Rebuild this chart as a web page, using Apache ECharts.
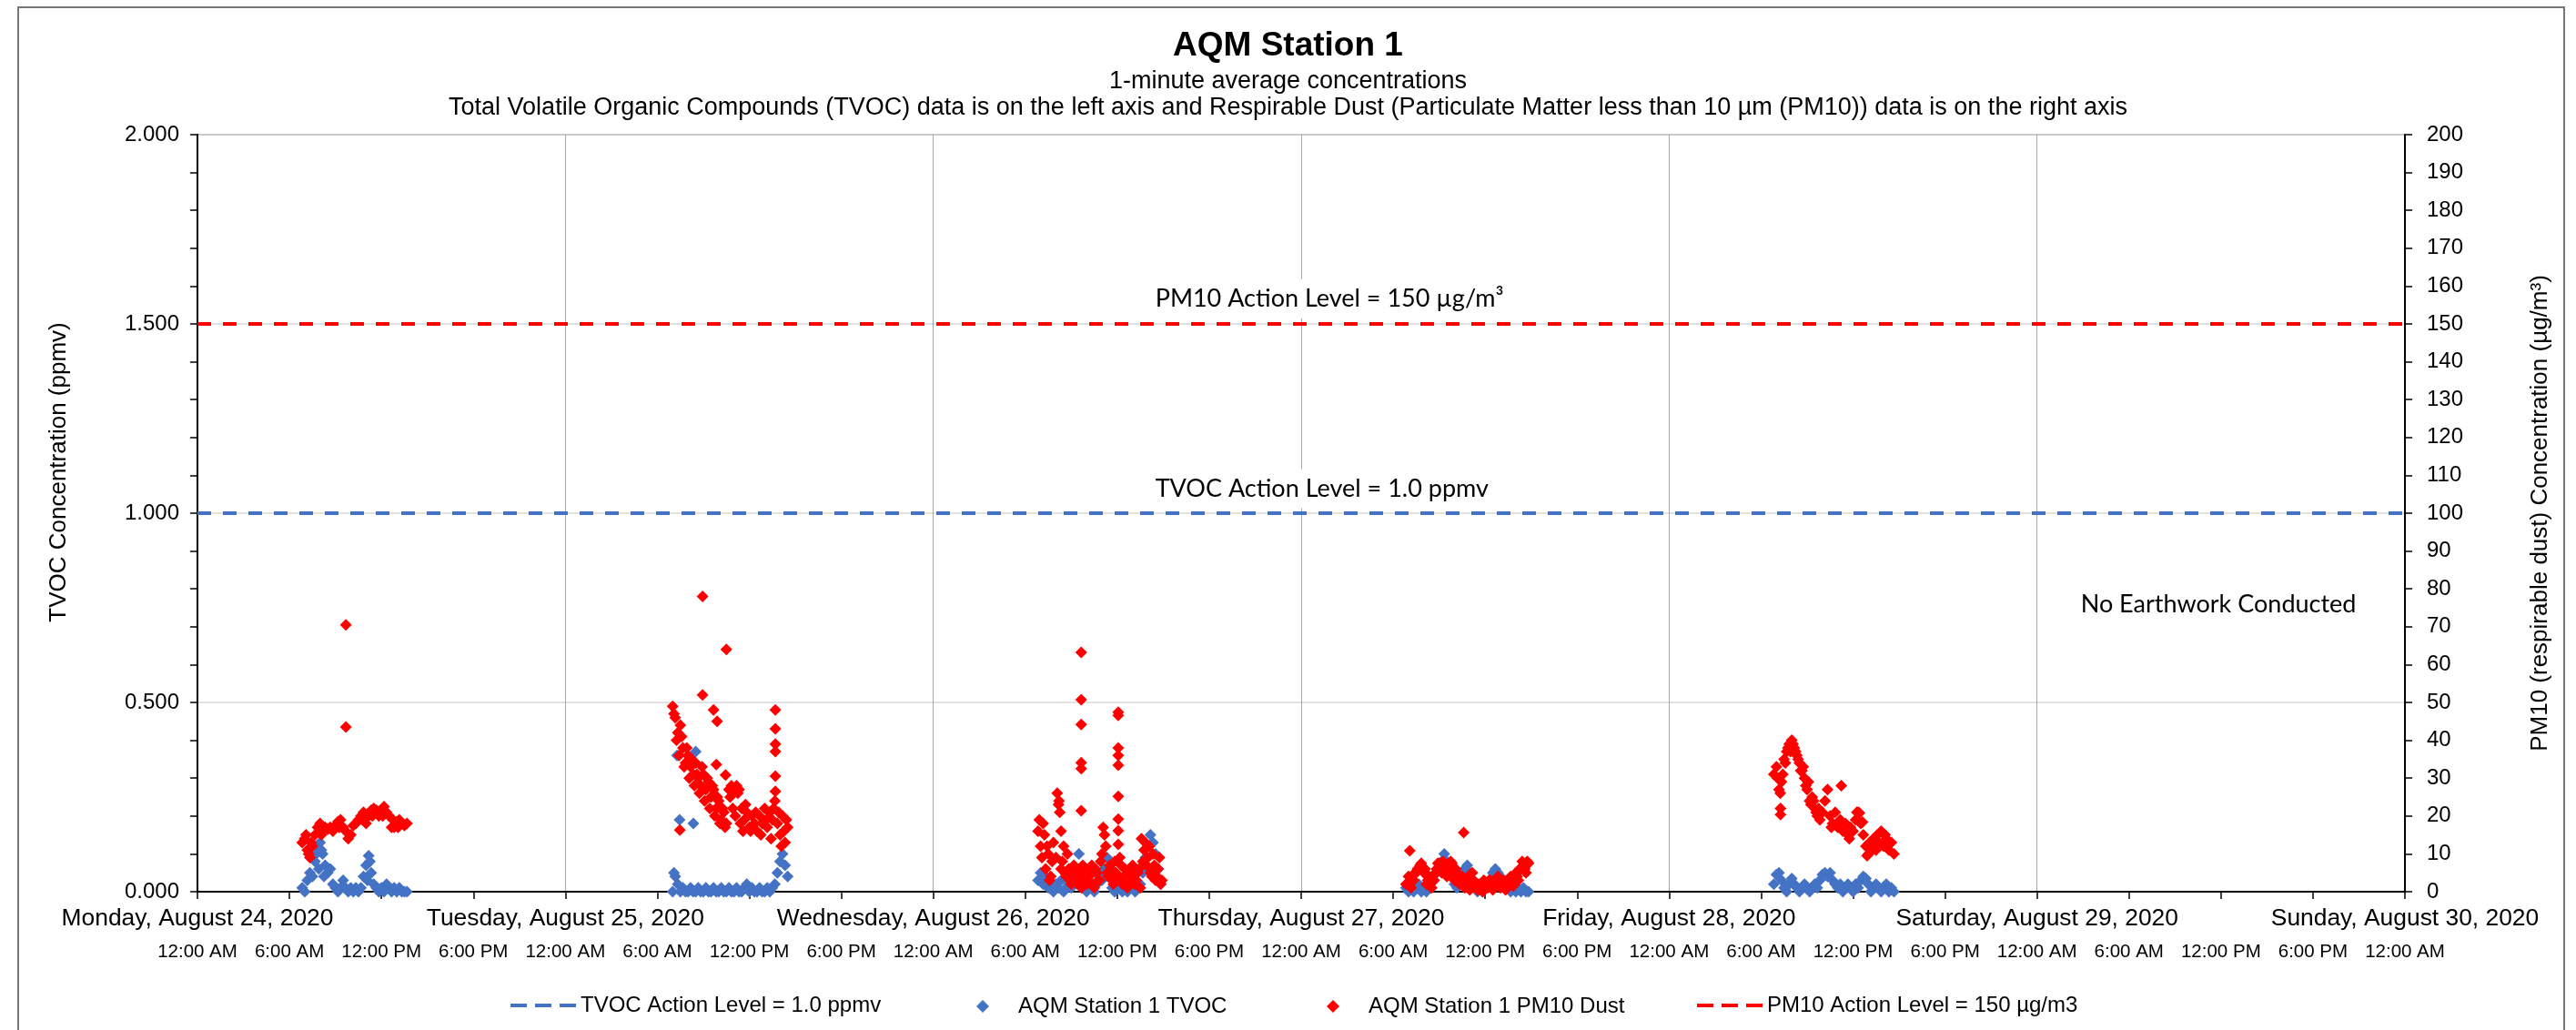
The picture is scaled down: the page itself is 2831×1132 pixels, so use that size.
<!DOCTYPE html>
<html>
<head>
<meta charset="utf-8">
<script src="https://cdn.jsdelivr.net/npm/echarts@6/dist/echarts.min.js"></script>
<style>html,body{margin:0;padding:0;background:#fff}#c{width:2831px;height:1132px}</style>
</head>
<body>
<div id="c"></div>
<script>
// ---------- axis / label data ----------
const dayLabels = ['Monday, August 24, 2020', 'Tuesday, August 25, 2020', 'Wednesday, August 26, 2020',
  'Thursday, August 27, 2020', 'Friday, August 28, 2020', 'Saturday, August 29, 2020', 'Sunday, August 30, 2020'];
const hourLabels = ['12:00 AM', '6:00 AM', '12:00 PM', '6:00 PM'];
const axisStart = Date.UTC(2020, 7, 24);
const axisEnd = Date.UTC(2020, 7, 30);
const tvocActionLevel = 1.0;
const pm10ActionLevel = 150;
const sampleMinutes = 10;

// ---------- Monday Aug 24 (06:50 - 13:40, every 10 min) ----------
const aug24Start = '2020-08-24T06:50';
const tvocAug24 = [0.01,0.00,0.03,0.05,0.04,0.08,0.12,0.13,0.10,0.07,0.05,0.06,0.02,0.01,0.00,0.01,0.03,0.01,0.00,0.01,0.00,0.01,0.00,0.01,0.04,0.07,0.095,0.05,0.02,0.01,0.00,0.01,0.00,0.02,0.01,0.00,0.01,0.00,0.01,0.00,0.00,0.00];
const pm10Aug24 = [13,14,11,9,12,15,17,18,16,17,16.5,17,16,17.5,18.5,19,17,16,14,15,17.5,18,19,20,21,18,20,21.5,22,21.5,20,21,22.5,21,20,17,17,18.5,19,18,17.5,18];
const tvocAug24Extra = [['07:45',0.10],['07:55',0.06],['08:05',0.11],['08:15',0.04],['11:05',0.03],['11:15',0.08]];
const pm10Aug24Extra = [['09:41',70.5],['09:41',43.5],['07:15',10],['07:25',13],['07:05',15],['08:05',15],['09:15',17],['10:45',19],['11:25',20],['12:05',20],['12:45',19],['13:05',17]];

// ---------- Tuesday Aug 25 (07:00 - 14:30) ----------
const aug25Start = '2020-08-25T07:00';
const tvocAug25 = [0.00,0.04,0.02,0.00,0.01,0.00,0.00,0.01,0.00,0.00, 0.01,0.00,0.00,0.01,0.00,0.00,0.01,0.00,0.00,0.01, 0.00,0.00,0.01,0.00,0.00,0.01,0.00,0.00,0.01,0.02, 0.00,0.01,0.00,0.00,0.01,0.00,0.00,0.01,0.00,0.01, 0.02,0.05,0.08,0.10,0.07,0.04];
const pm10Aug25 = [49,46,42,44,38,34,36,33,31,34, 30,28,31,27,29,25,27,22,24,19, 21,18,27,28,27,28,27,22,19,21, 17,20,18,16,20,18,22,17,21,19, 24,18,15,20,13,17];
const tvocAug25Extra = [['07:27',0.19],['08:21',0.18],['07:17',0.36],['08:14',0.35],['08:30',0.37],['07:05',0.05]];
const pm10Aug25Extra = [['08:57',78],['08:57',52],['10:30',64],['09:40',48],['09:54',45],['09:51',33.6],['10:27',30.8],['07:28',16.3],
  ['13:42',48],['13:42',43],['13:42',39],['13:42',37],['13:42',30.5],['13:42',26.5],
  ['07:05',47],['07:15',40],['07:25',36],['07:35',41],['07:45',33],['07:55',38],['08:05',30],['08:15',35],['08:25',28],['08:35',31],
  ['08:45',26],['08:55',33],['09:05',24],['09:15',30],['09:25',22],['09:35',28],['09:45',20],['09:55',25],['10:05',18],['10:15',22],
  ['10:25',17],['10:45',25],['10:55',22],['11:05',20],['11:15',26],['11:25',18],['11:35',16],['11:45',23],['12:05',16],['12:25',21],
  ['12:45',15],['13:05',19],['13:25',14],['13:35',22],['13:55',21],['14:05',12],['14:15',16],['14:25',19]];

// ---------- Wednesday Aug 26 (06:50 - 14:50) ----------
const aug26Start = '2020-08-26T06:50';
const tvocAug26 = [0.03,0.05,0.02,0.04,0.01,0.02,0.00,0.02,0.01,0.03, 0.00,0.01,0.02,0.01,0.03,0.05,0.10,0.04,0.01,0.00, 0.02,0.01,0.00,0.02,0.04,0.03,0.06,0.09,0.04,0.01, 0.00,0.02,0.01,0.00,0.01,0.00,0.02,0.01,0.00,0.01, 0.02,0.05,0.09,0.12,0.15,0.13,0.10,0.06,0.02];
const pm10Aug26 = [16,12,18,6,10,4,13,9,23,6, 12,4,6,2,7,3,5,1,6,2, 4,7,1,5,3,10,15,5,7,3, 8,4,9,2,6,1,4,7,2,5, 1,8,13,9,5,10,3,6,2];
const pm10Aug26Extra = [['09:39',63.2],['09:39',50.7],['09:39',44.2],['09:39',34.1],['09:39',32.5],['09:39',21.4],
  ['12:04',47.4],['12:04',46.6],['12:04',38],['12:04',36],['12:04',33.4],['12:04',25.2],['12:04',19.2],['12:04',16.1],['12:04',12.5],
  ['06:55',19],['07:05',9],['07:15',15],['07:25',12],['07:35',3],['07:45',8],['08:05',26],['08:12',24],['08:15',21],['08:20',16],
  ['08:25',8],['08:45',10],['11:05',17],['11:15',12],['13:35',14],['13:45',11],['13:55',7],['14:05',12],['14:15',4],['14:25',7],
  ['14:45',9],['09:05',5],['09:55',3],['10:15',6],['12:45',5],['13:15',3],
  ['08:35',5],['08:55',3],['09:15',6],['09:25',2],['09:35',4],['09:45',7],['10:05',4],['10:25',2],['10:35',6],['10:45',3],
  ['10:55',8],['11:25',4],['11:35',6],['11:45',2],['11:55',5],['12:05',3],['12:15',7],['12:25',4],['12:35',2],['12:55',6],
  ['13:05',3],['13:25',6],['14:35',4],['14:55',3]];

// ---------- Thursday Aug 27 (06:50 - 14:50) ----------
const aug27Start = '2020-08-27T06:50';
const tvocAug27 = [0.01,0.00,0.02,0.00,0.01,0.02,0.00,0.01,0.00,0.02, 0.01,0.03,0.05,0.07,0.08,0.10,0.08,0.06,0.04,0.02, 0.01,0.02,0.04,0.06,0.07,0.05,0.03,0.01,0.00,0.01, 0.00,0.01,0.02,0.03,0.05,0.06,0.05,0.04,0.03,0.02, 0.01,0.00,0.01,0.00,0.01,0.00,0.01,0.00,0.00];
const pm10Aug27 = [2,4,1,3,5,6,7.5,5,2,4, 1,3,6,7.5,5,7,4,6.5,7.5,3, 5,2,4,1,3,0.5,5,2,0.5,1.5, 0,2,1,3,0.5,2.5,4,1,3,0.5, 2,4,1.5,5,3,6,7,5,7.5];
const pm10Aug27Extra = [['07:05',10.8],['10:36',15.6],['07:45',7],['08:55',7.5],['09:05',6],['09:15',8],['09:25',6],['09:45',8],
  ['11:05',4.8],['14:25',8],['14:35',6],['14:45',8],['08:05',6],['10:05',6],
  ['07:15',3],['07:25',5],['07:35',6],['07:55',6],['08:15',3],['08:25',2],['08:35',4],['08:45',5],['09:35',5],['09:55',5],
  ['10:15',3],['10:25',4],['10:45',2],['10:55',4],['11:15',3],['11:25',1],['11:35',2],['11:45',1],['11:55',3],['12:05',2],
  ['12:15',3],['12:25',2],['12:35',1.5],['12:45',3],['12:55',2],['13:05',3],['13:15',2],['13:25',1],['13:35',3],['13:45',2],
  ['13:55',4],['14:05',4],['14:15',6]];

// ---------- Friday Aug 28 (06:50 - 14:40) ----------
const aug28Start = '2020-08-28T06:50';
const tvocAug28 = [0.02,0.045,0.05,0.03,0.01,0.00,0.02,0.035,0.02,0.01, 0.00,0.01,0.02,0.01,0.00,0.01,0.02,0.01,0.03,0.045, 0.05,0.04,0.05,0.03,0.02,0.01,0.02,0.00,0.01,0.02, 0.01,0.00,0.02,0.01,0.03,0.04,0.035,0.02,0.00,0.01, 0.02,0.01,0.00,0.01,0.02,0.00,0.01,0.00];
const pm10Aug28 = [31,33,27,29,35,37,39,40,38,36, 34,32,30,27,24,25,22,20,19,21, 24,27,20,18,21,17,19,16,18,15, 17,16,19,21,18,15,12,10,12,14, 11,13,16,12,14,11,13,10];
const pm10Aug28Extra = [['07:16',20.4],['07:16',22],['07:05',30],['07:15',26],['07:25',31],['07:35',34],['07:45',38],['07:55',37],
  ['08:05',39],['08:15',37],['08:25',35],['08:35',32],['08:45',33],['08:55',28],['09:05',29],['09:15',23],['09:25',24],['09:35',21],
  ['09:45',22],['11:14',28],['12:25',20.8],['12:37',18.4],['12:15',21],['12:55',9.5],['13:05',13],['13:35',15],['14:05',15],
  ['10:35',17],['11:45',14],['13:15',11]];

// ---------- helpers to turn readings into [time, value] pairs ----------
function stamp(day, hhmm) { return Date.parse(day + 'T' + hhmm + ':00Z'); }
function regular(start, values) {
  const t0 = Date.parse(start + ':00Z');
  return values.map((v, i) => [t0 + i * sampleMinutes * 60000, v]);
}
function extra(start, list) {
  const day = start.slice(0, 10);
  return list.map(p => [stamp(day, p[0]), p[1]]);
}

const tvocPoints = [].concat(
  regular(aug24Start, tvocAug24), extra(aug24Start, tvocAug24Extra),
  regular(aug25Start, tvocAug25), extra(aug25Start, tvocAug25Extra),
  regular(aug26Start, tvocAug26), regular(aug27Start, tvocAug27), regular(aug28Start, tvocAug28));
const pm10Points = [].concat(
  regular(aug24Start, pm10Aug24), extra(aug24Start, pm10Aug24Extra),
  regular(aug25Start, pm10Aug25), extra(aug25Start, pm10Aug25Extra),
  regular(aug26Start, pm10Aug26), extra(aug26Start, pm10Aug26Extra),
  regular(aug27Start, pm10Aug27), extra(aug27Start, pm10Aug27Extra),
  regular(aug28Start, pm10Aug28), extra(aug28Start, pm10Aug28Extra));

const BLUE = '#4472C4', RED = '#FF0000';
const FONT = '"Liberation Sans", Arial, sans-serif';
const NOTE_FONT = 'Lato, "Liberation Sans", sans-serif';
const SIX_H = 6 * 3600 * 1000, DAY = 24 * 3600 * 1000;

const nameTVOCAction = 'TVOC Action Level = 1.0 ppmv';
const nameTVOC = 'AQM Station 1 TVOC';
const namePM10 = 'AQM Station 1 PM10 Dust';
const namePM10Action = 'PM10 Action Level = 150 µg/m3';
const DASH_ICON = 'path://M0,0h18v4h-18zM27,0h18v4h-18zM54,0h18v4h-18z';

const chart = echarts.init(document.getElementById('c'), null, {renderer: 'canvas'});
const legendText = {fontFamily: FONT, fontSize: 24, color: '#000'};
function lineLegend(name, left) {
  return {data: [{name: name, icon: DASH_ICON}], left: left, top: 1088, orient: 'horizontal', itemWidth: 72, itemHeight: 4,
    itemGap: 0, textStyle: legendText, selectedMode: false};
}
function dotLegend(name, left) {
  return {data: [{name: name, icon: 'diamond'}], left: left, top: 1089, orient: 'horizontal', itemWidth: 14, itemHeight: 14,
    itemGap: 0, textStyle: Object.assign({padding: [0, 0, 0, 27]}, legendText), selectedMode: false};
}

chart.setOption({
  animation: false,
  backgroundColor: '#fff',
  textStyle: {fontFamily: FONT},
  title: [
    {text: 'AQM Station 1', left: 'center', top: 27, textStyle: {fontFamily: FONT, fontWeight: 'bold', fontSize: 37, color: '#000'}},
    {text: '1-minute average concentrations', left: 'center', top: 71, textStyle: {fontFamily: FONT, fontWeight: 'normal', fontSize: 27, color: '#000'}},
    {text: 'Total Volatile Organic Compounds (TVOC) data is on the left axis and Respirable Dust (Particulate Matter less than 10 µm (PM10)) data is on the right axis',
      left: 'center', top: 100, textStyle: {fontFamily: FONT, fontWeight: 'normal', fontSize: 27, color: '#000'}}
  ],
  graphic: [{type: 'rect', silent: true, z: -10, shape: {x: 20, y: 8, width: 2798, height: 1300},
    style: {fill: 'none', stroke: '#767676', lineWidth: 2}}],
  legend: [lineLegend(nameTVOCAction, 556), dotLegend(nameTVOC, 1068), dotLegend(namePM10, 1453), lineLegend(namePM10Action, 1860)],
  grid: {left: 217, right: 188, top: 148, bottom: 152, show: true, borderColor: '#404040', borderWidth: 1, outerBoundsMode: 'none'},
  xAxis: [
    {type: 'value', min: axisStart, max: axisEnd, interval: SIX_H, position: 'bottom',
      axisLine: {show: true, onZero: false, lineStyle: {color: '#000', width: 2}},
      axisTick: {show: true, inside: false, length: 8, lineStyle: {color: '#000', width: 1.5}},
      splitLine: {show: false},
      axisLabel: {show: true, margin: 56, fontFamily: FONT, fontSize: 20.5, color: '#000', showMinLabel: true, showMaxLabel: true,
        formatter: v => hourLabels[Math.round(((v - axisStart) % DAY) / SIX_H) % 4]}},
    {type: 'value', min: axisStart, max: axisEnd, interval: DAY, position: 'bottom',
      axisLine: {show: false}, axisTick: {show: false},
      splitLine: {show: true, lineStyle: {color: '#A6A6A6', width: 1}},
      axisLabel: {show: true, margin: 17, fontFamily: FONT, fontSize: 26.4, color: '#000', showMinLabel: true, showMaxLabel: true,
        formatter: v => dayLabels[Math.round((v - axisStart) / DAY)]}}
  ],
  yAxis: [
    {type: 'value', min: 0, max: 2, interval: 0.5, position: 'left',
      name: 'TVOC Concentration (ppmv)', nameLocation: 'middle', nameRotate: 90, nameGap: 139,
      nameTextStyle: {fontFamily: FONT, fontSize: 26, color: '#000', padding: [0, 0, 0, 90]},
      axisLine: {show: true, lineStyle: {color: '#000', width: 2}},
      axisTick: {show: true, inside: false, length: 8, lineStyle: {color: '#000', width: 1.5}},
      minorTick: {show: true, splitNumber: 5, length: 8, lineStyle: {color: '#000', width: 1.5}},
      splitLine: {show: true, lineStyle: {color: '#D9D9D9', width: 1.5}},
      axisLabel: {margin: 20, fontFamily: FONT, fontSize: 24, color: '#000', formatter: v => v.toFixed(3)}},
    {type: 'value', min: 0, max: 200, interval: 10, position: 'right',
      name: 'PM10 (respirable dust) Concentration (µg/m³)', nameLocation: 'middle', nameRotate: 90, nameGap: 136,
      nameTextStyle: {fontFamily: FONT, fontSize: 26, color: '#000'},
      axisLine: {show: true, lineStyle: {color: '#000', width: 2}},
      axisTick: {show: true, inside: false, length: 8, lineStyle: {color: '#000', width: 1.5}},
      splitLine: {show: false},
      axisLabel: {margin: 24, fontFamily: FONT, fontSize: 24, color: '#000'}}
  ],
  series: [
    {name: nameTVOCAction, type: 'line', xAxisIndex: 0, yAxisIndex: 0, symbol: 'none', z: 3,
      data: [[axisStart, tvocActionLevel], [axisEnd, tvocActionLevel]],
      lineStyle: {color: BLUE, width: 4, type: [15, 13]}, itemStyle: {color: BLUE},
      markPoint: {symbol: 'rect', symbolSize: 1, itemStyle: {color: 'rgba(0,0,0,0)'}, silent: true,
        label: {show: true, position: 'right', distance: 0, formatter: '{b}', color: '#000', fontFamily: NOTE_FONT, fontSize: 27,
          backgroundColor: '#fff', padding: [8, 4]},
        data: [{name: 'TVOC Action Level = 1.0 ppmv', coord: [stamp('2020-08-26', '14:13'), 1.065]},
               {name: 'No Earthwork Conducted', coord: [stamp('2020-08-29', '02:35'), 0.76]}]}},
    {name: nameTVOC, type: 'scatter', xAxisIndex: 0, yAxisIndex: 0, symbol: 'diamond', symbolSize: 13, z: 4,
      itemStyle: {color: BLUE, opacity: 1}, data: tvocPoints},
    {name: namePM10, type: 'scatter', xAxisIndex: 0, yAxisIndex: 1, symbol: 'diamond', symbolSize: 13, z: 5,
      itemStyle: {color: RED, opacity: 1}, data: pm10Points},
    {name: namePM10Action, type: 'line', xAxisIndex: 0, yAxisIndex: 1, symbol: 'none', z: 3,
      data: [[axisStart, pm10ActionLevel], [axisEnd, pm10ActionLevel]],
      lineStyle: {color: RED, width: 4, type: [15, 13]}, itemStyle: {color: RED},
      markPoint: {symbol: 'rect', symbolSize: 1, itemStyle: {color: 'rgba(0,0,0,0)'}, silent: true,
        label: {show: true, position: 'right', distance: 0, formatter: '{b}', color: '#000', fontFamily: NOTE_FONT, fontSize: 27,
          backgroundColor: '#fff', padding: [8, 4]},
        data: [{name: 'PM10 Action Level = 150 µg/m³', coord: [stamp('2020-08-26', '14:13'), 156.7]}]}}
  ]
});
</script>
</body>
</html>
